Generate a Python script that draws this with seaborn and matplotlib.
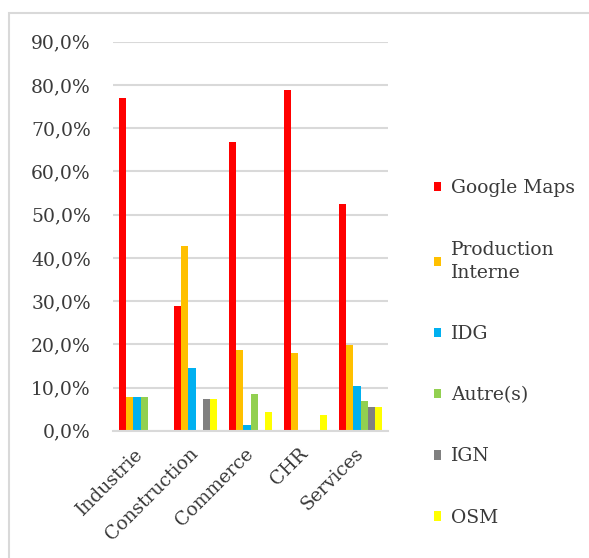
import pandas as pd
import matplotlib
matplotlib.use("Agg")
import matplotlib.pyplot as plt
import seaborn as sns
from matplotlib.ticker import FuncFormatter, FixedLocator
from matplotlib.patches import Rectangle
from matplotlib.transforms import ScaledTranslation

# Data (share of respondents, in %)
secteurs = ["Industrie", "Construction", "Commerce", "CHR", "Services"]
sources = ["Google Maps", "Production\nInterne", "IDG", "Autre(s)", "IGN", "OSM"]
google_maps = [77.0, 28.9, 66.8, 78.8, 52.4]
production_interne = [7.9, 42.8, 18.7, 18.1, 19.9]
idg = [7.9, 14.6, 1.3, 0.0, 10.3]
autres = [7.9, 0.0, 8.5, 0.0, 6.8]
ign = [0.0, 7.3, 0.0, 0.0, 5.5]
osm = [0.0, 7.3, 4.3, 3.7, 5.5]
couleurs = ["#FF0000", "#FFC000", "#00B0F0", "#92D050", "#808080", "#FFFF00"]

series = [google_maps, production_interne, idg, autres, ign, osm]
rows = []
for src, vals in zip(sources, series):
    for sect, v in zip(secteurs, vals):
        rows.append({"Secteur": sect, "Source": src, "Part": v / 100})
df = pd.DataFrame(rows)

sns.set_style("white")
plt.rcParams["font.family"] = ["DejaVu Serif"]
txt = "#3a3a3a"
fs = 13.5

fig = plt.figure(figsize=(5.89, 5.58), dpi=100)
ax = fig.add_axes([0.192, 0.228, 0.467, 0.697])

sns.barplot(data=df, x="Secteur", y="Part", hue="Source", palette=couleurs,
            width=0.78, gap=0, saturation=1, ax=ax, linewidth=0)

ax.set_ylim(0, 0.9)
ax.set_yticks([i / 10 for i in range(10)])
ax.yaxis.set_major_formatter(FuncFormatter(lambda v, p: f"{v*100:.1f}%".replace(".", ",")))
ax.grid(axis="y", color="#d9d9d9", linewidth=1.5)
ax.set_axisbelow(True)
ax.set_xlabel("")
ax.set_ylabel("")

for s in ["top", "right", "left"]:
    ax.spines[s].set_visible(False)
ax.spines["bottom"].set_color("#d9d9d9")
ax.spines["bottom"].set_linewidth(1.5)

ax.tick_params(axis="y", length=0, pad=16, labelsize=fs, labelcolor=txt)
ax.tick_params(axis="x", which="major", length=0, pad=10, labelsize=fs, labelcolor=txt)
ax.xaxis.set_minor_locator(FixedLocator([i - 0.5 for i in range(len(secteurs) + 1)]))
ax.tick_params(axis="x", which="minor", length=5, width=1.5, color="#d9d9d9")
ax.set_xlim(-0.5, len(secteurs) - 0.5)
shift = ScaledTranslation(6 / 100, 0, fig.dpi_scale_trans)
for lab in ax.get_xticklabels():
    lab.set_rotation(45)
    lab.set_ha("right")
    lab.set_va("top")
    lab.set_transform(lab.get_transform() + shift)

leg = ax.legend(loc="center left", bbox_to_anchor=(1.105, 0.2), frameon=False,
                fontsize=fs, labelspacing=2.3, handlelength=0.4, handleheight=0.4,
                handletextpad=0.5, labelcolor=txt)
for t in leg.get_texts():
    t.set_linespacing(1.4)

# chart frame (top and left edges visible)
fig.patches.append(Rectangle((9 / 589, -0.1), 1.2, 1 - 13 / 558 + 0.1,
                             transform=fig.transFigure, fill=False,
                             edgecolor="#d9d9d9", linewidth=1.5))

fig.savefig("out.png", dpi=100)
